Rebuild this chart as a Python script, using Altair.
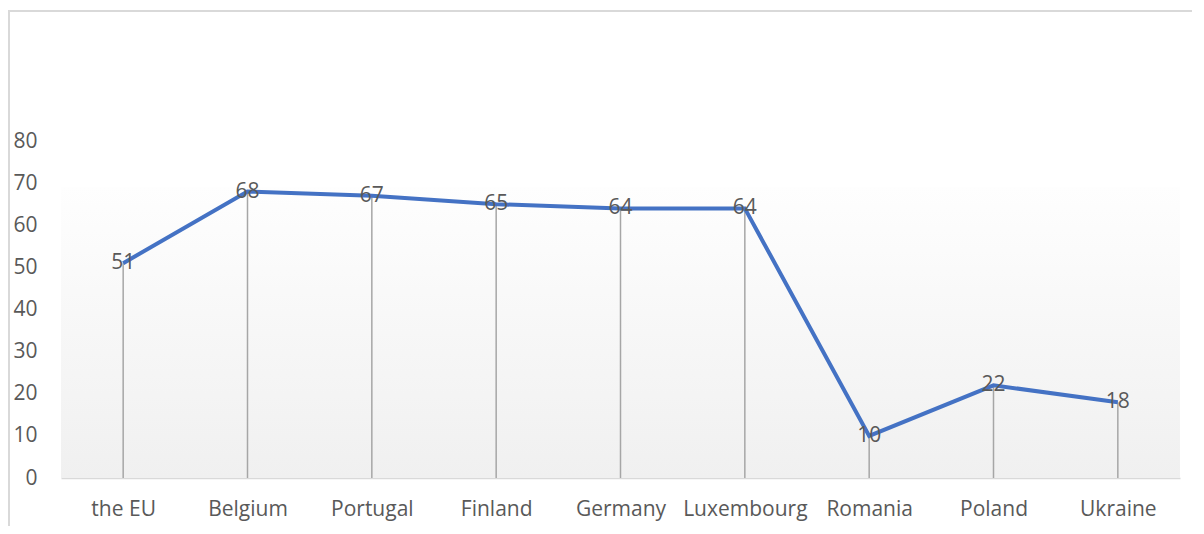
import altair as alt
import pandas as pd

countries = ["the EU", "Belgium", "Portugal", "Finland", "Germany", "Luxembourg", "Romania", "Poland", "Ukraine"]
values = [51, 68, 67, 65, 64, 64, 10, 22, 18]

df = pd.DataFrame({"country": countries, "value": values, "zero": [0] * len(values)})

W, H = 1119, 337
FONT = "Open Sans"
GRAY = "#595959"

x_enc = alt.X("country:N", sort=countries, title=None,
              scale=alt.Scale(type="point", padding=0.5),
              axis=alt.Axis(labelAngle=0, labelFontSize=21, labelFont=FONT, labelColor=GRAY,
                            domainColor="#d9d9d9", domainWidth=1.5, ticks=False, grid=False,
                            labelPadding=20))
y_scale = alt.Scale(domain=[0, 80], nice=False)
y_axis = alt.Axis(values=[0, 10, 20, 30, 40, 50, 60, 70, 80], labelFontSize=21, labelFont=FONT,
                  labelColor=GRAY, domain=False, ticks=False, grid=False, labelPadding=24)

base = alt.Chart(df)

frame = base.mark_rect(fill=None, stroke="#d9d9d9", strokeWidth=1.5).encode(
    x=alt.value(-52), x2=alt.value(1300), y=alt.value(-130), y2=alt.value(700)
)

bg = base.mark_rect(
    fill=alt.Gradient(gradient="linear", x1=0, x2=0, y1=0, y2=1,
                      stops=[alt.GradientStop(color="#fefefe", offset=0),
                             alt.GradientStop(color="#f0f0f0", offset=1)])
).encode(x=alt.value(0), x2=alt.value(W), y=alt.value(46), y2=alt.value(H))

drops = base.mark_rule(color="#a6a6a6", strokeWidth=1.5).encode(
    x=x_enc,
    y=alt.Y("value:Q", scale=y_scale, axis=y_axis, title=None),
    y2="zero:Q",
)

line = base.mark_line(color="#4472c4", strokeWidth=4).encode(
    x=x_enc,
    y=alt.Y("value:Q", scale=y_scale, title=None, axis=y_axis),
)

labels = base.mark_text(font=FONT, fontSize=21, color=GRAY, baseline="middle", align="center").encode(
    x=x_enc,
    y=alt.Y("value:Q", scale=y_scale, axis=y_axis, title=None),
    text="value:Q",
)

chart = alt.layer(frame, bg, drops, line, labels).properties(
    width=W, height=H,
    background="white",
    autosize=alt.AutoSizeParams(type="none"),
    padding={"left": 53, "top": 133, "right": 12, "bottom": 48},
).configure_view(stroke=None).configure_axis(grid=False)

chart.save("out.html", embed_options={"renderer": "svg", "actions": False})
